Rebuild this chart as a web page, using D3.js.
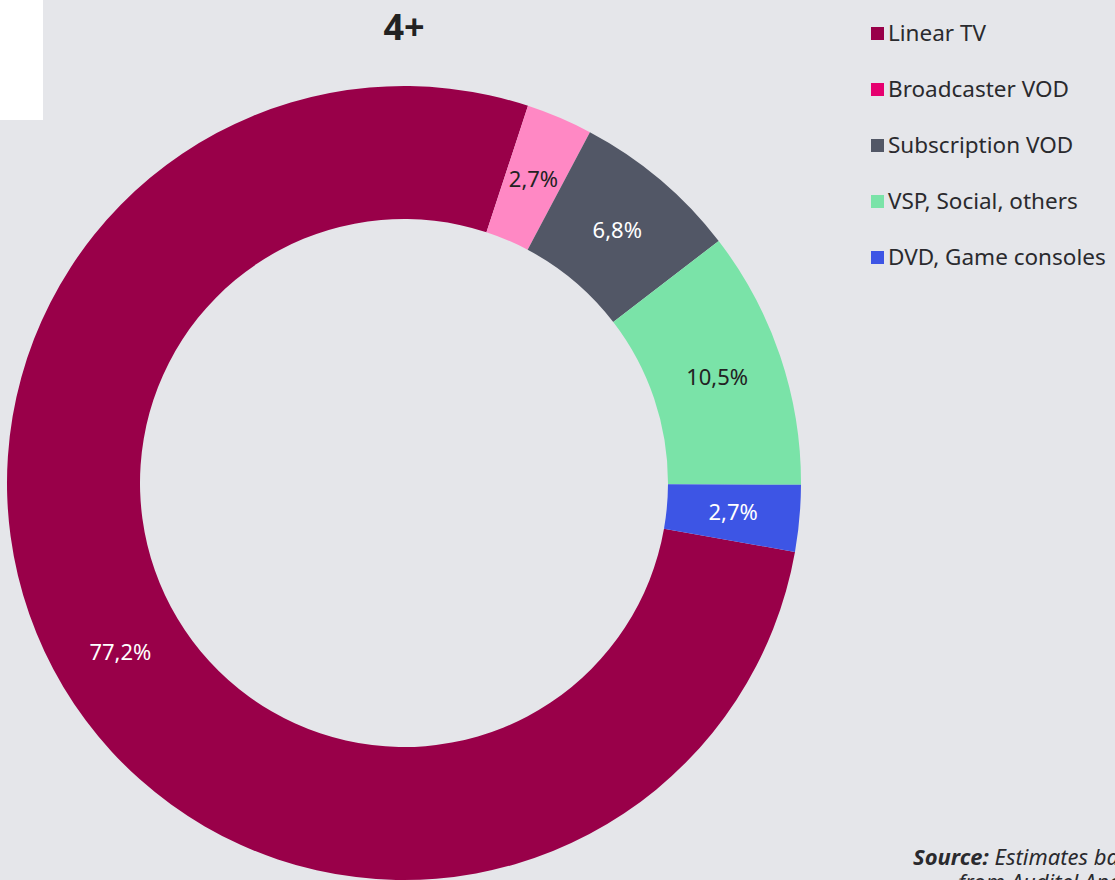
<html>
<head>
    <script src="https://d3js.org/d3.v7.min.js"></script>
    <style>
        body { margin: 0; background: #e5e6ea; overflow: hidden; }
        text { font-family: "Noto Sans", "Open Sans", sans-serif; }
    </style>
</head>
<body>
    <svg id="chart" width="1115" height="880"></svg>
    <script>
        // data
        var categories = ['Linear TV', 'Broadcaster VOD', 'Subscription VOD', 'VSP, Social, others', 'DVD, Game consoles']
        var shares = [77.2, 2.7, 6.8, 10.5, 2.7]
        var labels = ['77,2%', '2,7%', '6,8%', '10,5%', '2,7%']
        var sliceColors = ['#990049', '#ff88c4', '#525766', '#7ae3a8', '#3d55e5']
        var legendColors = ['#990049', '#e6006f', '#525766', '#7ae3a8', '#3d55e5']
        var labelColors = ['#ffffff', '#222222', '#ffffff', '#222222', '#ffffff']

        var svg = d3.select('#chart')

        // white box in the top left corner
        svg.append('rect')
            .attr('x', 0).attr('y', 0)
            .attr('width', 43).attr('height', 120)
            .attr('fill', '#ffffff')

        svg.append('text')
            .attr('x', 404).attr('y', 40)
            .attr('text-anchor', 'middle')
            .style('font-size', '36px')
            .style('font-weight', 'bold')
            .attr('fill', '#222')
            .text('4+')

        var cx = 404, cy = 483
        var outer = 397, inner = 264
        var start = 100 * Math.PI / 180

        var pie = d3.pie()
            .sort(null)
            .value(function(d) { return d })
            .startAngle(start)
            .endAngle(start + 2 * Math.PI)

        var arc = d3.arc()
            .innerRadius(inner)
            .outerRadius(outer)

        var g = svg.append('g')
            .attr('transform', 'translate(' + cx + ',' + cy + ')')

        var arcs = pie(shares)

        g.selectAll('path')
            .data(arcs)
            .enter()
            .append('path')
            .attr('d', arc)
            .attr('fill', function(d, i) { return sliceColors[i] })

        g.selectAll('text.label')
            .data(arcs)
            .enter()
            .append('text')
            .classed('label', true)
            .attr('transform', function(d) { return 'translate(' + arc.centroid(d) + ')' })
            .attr('text-anchor', 'middle')
            .attr('dy', '0.35em')
            .style('font-size', '22px')
            .attr('fill', function(d, i) { return labelColors[i] })
            .text(function(d, i) { return labels[i] })

        // legend
        var legend = svg.append('g')
            .attr('transform', 'translate(871, 33)')

        var items = legend.selectAll('g')
            .data(categories)
            .enter()
            .append('g')
            .attr('transform', function(d, i) { return 'translate(0,' + (i * 56) + ')' })

        items.append('rect')
            .attr('x', 0).attr('y', -6)
            .attr('width', 13).attr('height', 13)
            .attr('fill', function(d, i) { return legendColors[i] })

        items.append('text')
            .attr('x', 17)
            .attr('dy', '0.36em')
            .style('font-size', '22.5px')
            .attr('fill', '#2a2a2e')
            .text(function(d) { return d })

        // source note, cut by the page edge as in the original
        var src = svg.append('text')
            .attr('x', 913).attr('y', 865)
            .style('font-size', '22px')
            .style('font-style', 'italic')
            .attr('fill', '#2a2a2e')
        src.append('tspan').style('font-weight', 'bold').text('Source:')
        src.append('tspan').text(' Estimates based on data')

        svg.append('text')
            .attr('x', 958).attr('y', 890)
            .style('font-size', '22px')
            .style('font-style', 'italic')
            .attr('fill', '#2a2a2e')
            .text('from Auditel Analysis')
    </script>
</body>
</html>
